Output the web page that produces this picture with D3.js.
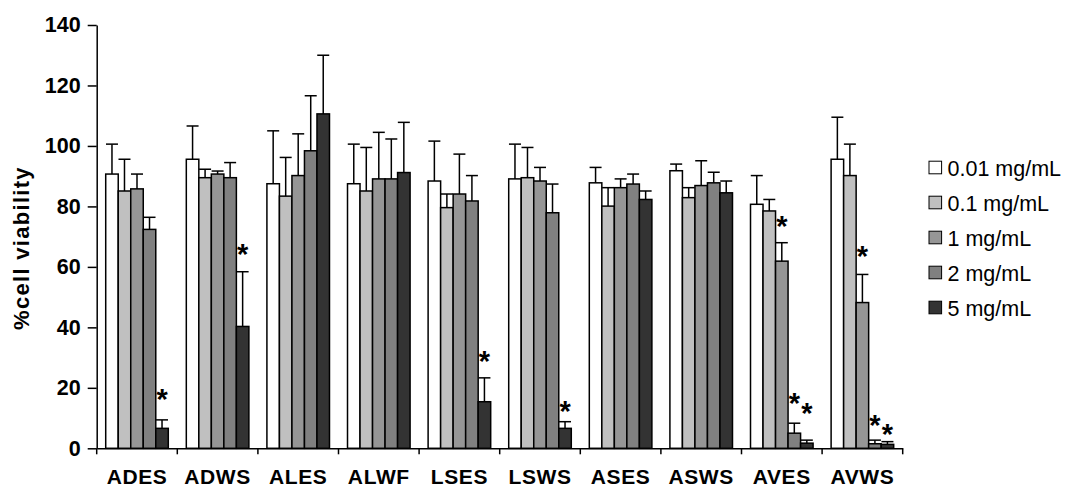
<!DOCTYPE html>
<html>
<head>
<meta charset="utf-8">
<script src="https://cdn.jsdelivr.net/npm/d3@7"></script>
<style>
  body { margin: 0; background: #fff; }
  svg { display: block; font-family: Arial, "Liberation Sans", sans-serif; }
</style>
</head>
<body>
<div id="chart-area"></div>
<script>
// data
const categories = ["ADES", "ADWS", "ALES", "ALWF", "LSES", "LSWS", "ASES", "ASWS", "AVES", "AVWS"];
const doses = ["0.01 mg/mL", "0.1 mg/mL", "1 mg/mL", "2 mg/mL", "5 mg/mL"];

const mean001 = [90.7, 95.6, 87.5, 87.5, 88.4, 89.1, 87.8, 91.8, 80.7, 95.6];
const mean01  = [85.1, 89.5, 83.4, 85.1, 79.6, 89.5, 80.1, 82.9, 78.5, 90.2];
const mean1   = [85.8, 90.7, 90.2, 89.1, 84.1, 88.4, 86.2, 86.9, 61.9, 48.2];
const mean2   = [72.4, 89.5, 98.4, 89.1, 81.8, 77.9, 87.4, 87.8, 5.0, 1.5];
const mean5   = [6.6, 40.3, 110.6, 91.2, 15.4, 6.6, 82.3, 84.5, 1.7, 1.3];

const sd001 = [9.9, 11.0, 17.5, 13.1, 13.2, 11.5, 5.1, 2.2, 9.5, 13.9];
const sd01  = [10.5, 2.8, 12.8, 14.4, 4.5, 10.0, 6.1, 3.3, 3.8, 10.4];
const sd1   = [4.9, 1.0, 13.8, 15.4, 13.2, 4.5, 2.9, 8.2, 6.1, 9.3];
const sd2   = [4.0, 5.0, 18.2, 13.2, 8.4, 9.5, 3.3, 3.5, 3.3, 1.2];
const sd5   = [2.8, 18.1, 19.4, 16.6, 7.9, 2.2, 2.8, 3.9, 1.0, 0.9];

const yTicks = [0, 20, 40, 60, 80, 100, 120, 140];

// significance stars: category, dose index, height of the star (axis units)
const stars = [
  {cat: "ADES", dose: 4, y: 18.4},
  {cat: "ADWS", dose: 4, y: 66.2},
  {cat: "LSES", dose: 4, y: 31.0},
  {cat: "LSWS", dose: 4, y: 14.4},
  {cat: "AVES", dose: 2, y: 75.5},
  {cat: "AVES", dose: 3, y: 16.9},
  {cat: "AVES", dose: 4, y: 13.6},
  {cat: "AVWS", dose: 2, y: 65.6},
  {cat: "AVWS", dose: 3, y: 9.8},
  {cat: "AVWS", dose: 4, y: 6.7}
];

const means = [mean001, mean01, mean1, mean2, mean5];
const sds = [sd001, sd01, sd1, sd2, sd5];
const colors = ["#ffffff", "#c0c0c0", "#969696", "#808080", "#333333"];

const W = 1065, H = 489;
const plot = {left: 96.7, right: 902.7, top: 25, bottom: 448.3};

const svg = d3.select("#chart-area")
    .append("svg")
    .attr("width", W)
    .attr("height", H);

// scales
const x0 = d3.scaleBand()
    .domain(categories)
    .range([plot.left, plot.right])
    .padding(0);

const x1 = d3.scaleBand()
    .domain(d3.range(doses.length))
    .range([0, x0.bandwidth()])
    .paddingInner(0)
    .paddingOuter(0.72);

const y = d3.scaleLinear()
    .domain([0, 140])
    .range([plot.bottom, plot.top]);

// flat table for bars
const rows = [];
categories.forEach((c, i) => {
  doses.forEach((d, j) => {
    rows.push({cat: c, dose: j, value: means[j][i], sd: sds[j][i]});
  });
});

// bars
svg.append("g")
  .selectAll("rect")
  .data(rows)
  .join("rect")
    .attr("x", d => x0(d.cat) + x1(d.dose))
    .attr("y", d => y(d.value))
    .attr("width", x1.bandwidth())
    .attr("height", d => y(0) - y(d.value))
    .attr("fill", d => colors[d.dose])
    .attr("stroke", "#000")
    .attr("stroke-width", 1.5);

// error bars (upper half only)
const capW = 12;
const err = svg.append("g")
    .attr("stroke", "#000")
    .attr("stroke-width", 1.5);

err.selectAll("line.v")
  .data(rows)
  .join("line")
    .attr("class", "v")
    .attr("x1", d => x0(d.cat) + x1(d.dose) + x1.bandwidth() / 2)
    .attr("x2", d => x0(d.cat) + x1(d.dose) + x1.bandwidth() / 2)
    .attr("y1", d => y(d.value))
    .attr("y2", d => y(d.value + d.sd));

err.selectAll("line.cap")
  .data(rows)
  .join("line")
    .attr("class", "cap")
    .attr("x1", d => x0(d.cat) + x1(d.dose) + x1.bandwidth() / 2 - capW / 2)
    .attr("x2", d => x0(d.cat) + x1(d.dose) + x1.bandwidth() / 2 + capW / 2)
    .attr("y1", d => y(d.value + d.sd))
    .attr("y2", d => y(d.value + d.sd));

// stars
const starSize = 29;
svg.append("g")
  .selectAll("text")
  .data(stars)
  .join("text")
    .attr("x", d => x0(d.cat) + x1(d.dose) + x1.bandwidth() / 2)
    .attr("y", d => y(d.y) + starSize * 0.56)
    .attr("text-anchor", "middle")
    .style("font-size", starSize + "px")
    .style("font-weight", "bold")
    .text("*");

// y axis
const yAxis = svg.append("g")
    .attr("transform", `translate(${plot.left},0)`)
    .call(d3.axisLeft(y).tickValues(yTicks).tickSize(9).tickSizeOuter(0).tickPadding(7));
yAxis.select(".domain").attr("stroke-width", 1.5);
yAxis.selectAll(".tick line").attr("stroke-width", 1.5);
yAxis.selectAll(".tick text")
    .style("font-size", "21.5px")
    .style("font-weight", "bold")
    .style("font-family", "Arial, 'Liberation Sans', sans-serif")
    .attr("fill", "#000");

// x axis
const xAxis = svg.append("g")
    .attr("transform", `translate(0,${plot.bottom})`)
    .call(d3.axisBottom(x0).tickSize(0).tickSizeOuter(0).tickPadding(20.5));
xAxis.select(".domain").attr("stroke-width", 1.5);
xAxis.selectAll(".tick text")
    .style("font-size", "21px")
    .style("font-weight", "bold")
    .style("letter-spacing", "0.6px")
    .style("font-family", "Arial, 'Liberation Sans', sans-serif")
    .attr("fill", "#000");

// category separator ticks
const bounds = categories.map(c => x0(c)).concat([plot.right]);
svg.append("g")
  .selectAll("line")
  .data(bounds)
  .join("line")
    .attr("x1", d => d)
    .attr("x2", d => d)
    .attr("y1", plot.bottom)
    .attr("y2", plot.bottom + 6)
    .attr("stroke", "#000")
    .attr("stroke-width", 1.5);

// y title
svg.append("text")
    .attr("transform", "translate(29,248) rotate(-90)")
    .attr("text-anchor", "middle")
    .style("font-size", "22px")
    .style("font-weight", "bold")
    .style("letter-spacing", "1.3px")
    .text("%cell viability");

// legend
const legend = svg.append("g")
  .selectAll("g")
  .data(doses)
  .join("g")
    .attr("transform", (d, i) => `translate(929,${167.5 + i * 35})`);

legend.append("rect")
    .attr("x", 0)
    .attr("y", -6.3)
    .attr("width", 12.6)
    .attr("height", 12.6)
    .attr("fill", (d, i) => colors[i])
    .attr("stroke", "#000")
    .attr("stroke-width", 1);

legend.append("text")
    .attr("x", 18.5)
    .attr("y", 8)
    .style("font-size", "21.5px")
    .text(d => d);
</script>
</body>
</html>
